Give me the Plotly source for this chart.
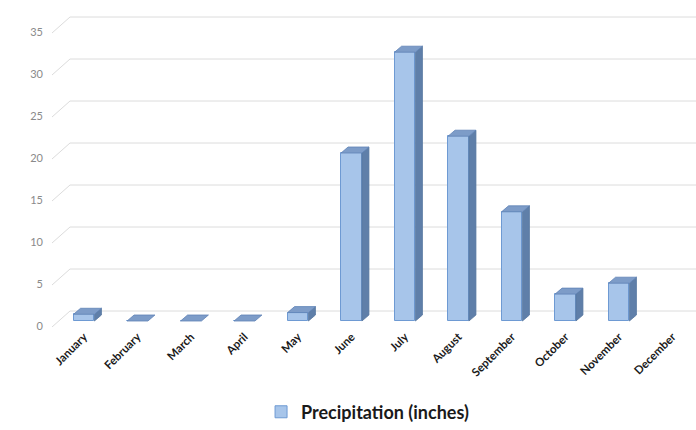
import plotly.graph_objects as go

# Monthly precipitation data
months = ["January", "February", "March", "April", "May", "June",
          "July", "August", "September", "October", "November", "December"]
precip = [0.8, 0, 0, 0, 1.0, 20, 32, 22, 13, 3.2, 4.5, None]
series_name = "Precipitation (inches)"
y_ticks = [0, 5, 10, 15, 20, 25, 30, 35]

# Pseudo-3D geometry (pixels -> data units)
W, H = 696, 430
M_L, M_R, M_T, M_B = 52, 0, 10, 103
PX_PER_UNIT = 8.4
PX_PER_CAT = 53.5
plot_w = W - M_L - M_R
plot_h = H - M_T - M_B
y_max = plot_h / PX_PER_UNIT
x_lo = -32 / PX_PER_CAT
x_hi = x_lo + plot_w / PX_PER_CAT

WALL_DX_PX, WALL_DY_PX = 18, 16          # back wall offset
BAR_DX = 7 / PX_PER_CAT                   # bar depth (x)
BAR_DY = 6 / PX_PER_UNIT                  # bar depth (y)
BAR_BASE = 6 / PX_PER_UNIT                # bar front sits slightly behind the floor edge
BAR_W = 0.39

FRONT = "#a7c5ea"
FRONT_EDGE = "#6e9ad3"
SIDE = "#5f7fa9"
TOP = "#7d9cc8"

fig = go.Figure()

# Back-wall gridlines with the perspective diagonal at the left
wall_off = WALL_DY_PX / PX_PER_UNIT
wall_x = WALL_DX_PX / plot_w
for v in y_ticks:
    fig.add_shape(type="line", xref="paper", yref="y", x0=wall_x, x1=1,
                  y0=v + wall_off, y1=v + wall_off,
                  line=dict(color="#dcdcdc", width=1), layer="below")
    fig.add_shape(type="line", xref="paper", yref="y", x0=0, x1=wall_x,
                  y0=v, y1=v + wall_off,
                  line=dict(color="#dcdcdc", width=1), layer="below")

xs = list(range(len(months)))
vals = [v for v in precip]

# Side faces and top faces built from the values
side_x, side_y, top_x, top_y = [], [], [], []
for i, v in zip(xs, vals):
    if v is None:
        continue
    xl, xr = i - BAR_W / 2, i + BAR_W / 2
    b, t = BAR_BASE, BAR_BASE + v
    if v > 0:
        side_x += [xr, xr, xr + BAR_DX, xr + BAR_DX, xr, None]
        side_y += [b, t, t + BAR_DY, b + BAR_DY, b, None]
    top_x += [xl, xr, xr + BAR_DX, xl + BAR_DX, xl, None]
    top_y += [t, t, t + BAR_DY, t + BAR_DY, t, None]

fig.add_trace(go.Scatter(x=side_x, y=side_y, fill="toself", fillcolor=SIDE,
                         mode="lines", line=dict(color="#56769f", width=0.8),
                         showlegend=False, hoverinfo="skip"))
fig.add_trace(go.Scatter(x=top_x, y=top_y, fill="toself", fillcolor=TOP,
                         mode="lines", line=dict(color="#5f83b6", width=0.8),
                         showlegend=False, hoverinfo="skip"))

# Front faces
fig.add_trace(go.Bar(x=xs, y=vals, base=BAR_BASE, width=BAR_W, name=series_name,
                     marker=dict(color=FRONT, line=dict(color=FRONT_EDGE, width=1))))

fig.update_layout(
    width=W, height=H,
    margin=dict(l=M_L, r=M_R, t=M_T, b=M_B, autoexpand=False),
    paper_bgcolor="white", plot_bgcolor="white",
    font=dict(family="Lato, Open Sans, sans-serif"),
    showlegend=True,
    legend=dict(orientation="h", x=0.49, xanchor="center", y=-0.21, yanchor="top",
                font=dict(size=18, color="#1a1a1a", family="Lato, sans-serif", weight="bold"),
                itemwidth=30, tracegroupgap=0),
    bargap=0,
)
fig.update_xaxes(range=[x_lo, x_hi], tickmode="array", tickvals=xs, ticktext=months,
                 tickangle=-45, showgrid=False, zeroline=False, showline=False,
                 ticks="", automargin=False,
                 tickfont=dict(size=11.5, color="#1a1a1a", family="Lato, sans-serif",
                               weight="bold"))
fig.update_yaxes(range=[0, y_max], tickmode="array", tickvals=y_ticks,
                 showgrid=False, zeroline=False, showline=False, ticks="",
                 automargin=False, ticklabelstandoff=8, ticklabelshift=-1,
                 tickfont=dict(size=11, color="#8a8a8a"))

fig.write_html("out.html")
